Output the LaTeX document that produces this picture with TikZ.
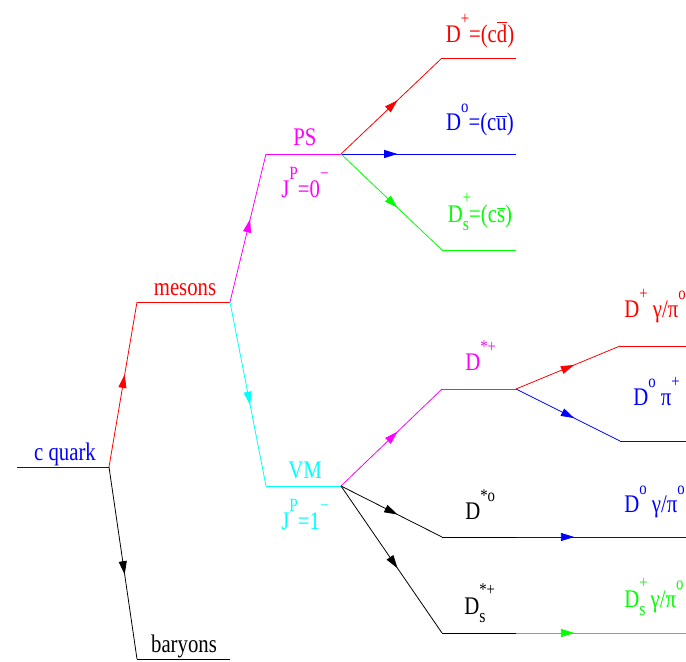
\documentclass[tikz,border=0pt]{standalone}
\usepackage{fontspec}
\setmainfont{Liberation Serif}
\usepackage{xcolor}
\usetikzlibrary{arrows.meta,decorations.markings}
\definecolor{qRed}{HTML}{FF0000}
\definecolor{qBlue}{HTML}{0000FF}
\definecolor{qGreen}{HTML}{00FF00}
\definecolor{qMag}{HTML}{FF00FF}
\definecolor{qCyan}{HTML}{00FFFF}
\newcommand{\upr}[1]{\raisebox{0.68em}{\fontsize{13.5}{12}\selectfont #1}}
\newcommand{\upj}[1]{\raisebox{0.68em}{\fontsize{14}{13}\selectfont #1}}
\newcommand{\upsb}[2]{\makebox[0pt][l]{\raisebox{0.75em}{\fontsize{13.5}{12}\selectfont #1}}\raisebox{-0.35em}{\fontsize{14.5}{13}\selectfont #2}}
\newcommand{\bard}[1]{$\overline{\mbox{#1}}$}

\begin{document}
\begin{tikzpicture}[x=0.75pt,y=-0.75pt,font=\fontsize{19}{20}\selectfont,line width=0.6pt,
  midarrow/.style={postaction={decorate},decoration={markings,
    mark=at position 0.56 with {\arrow{Triangle[length=10pt,width=6pt]}}}},
  lbl/.style={anchor=base,inner sep=0pt,xscale=0.82,transform shape}]
\useasboundingbox (0,0) rectangle (686,661);
% vertices
\coordinate (c0) at (17,467);
\coordinate (vc) at (109,467);
\coordinate (m1) at (137,302);  \coordinate (m2) at (230,302);
\coordinate (b1) at (137,659);  \coordinate (b2) at (230,659);
\coordinate (p1) at (266,154);  \coordinate (p2) at (341,154);
\coordinate (v1) at (266,486);  \coordinate (v2) at (341,486);
\coordinate (dp1) at (442,58);  \coordinate (dp2) at (516,58);
\coordinate (dz1) at (442,154); \coordinate (dz2) at (516,154);
\coordinate (ds1) at (442,250); \coordinate (ds2) at (516,250);
\coordinate (sp1) at (442,389); \coordinate (sp2) at (516,389);
\coordinate (r1) at (620,346);  \coordinate (r2) at (686,346);
\coordinate (q1) at (620,441);  \coordinate (q2) at (686,441);
\coordinate (sz1) at (442,537); \coordinate (sz2) at (516,537);
\coordinate (sz3) at (620,537); \coordinate (sz4) at (686,537);
\coordinate (ss1) at (442,633); \coordinate (ss2) at (516,633);
\coordinate (ss3) at (620,633); \coordinate (ss4) at (686,633);
% c quark : mesons / baryons
\draw[qBlue] (c0) -- (vc);
\draw[qRed,midarrow] (vc) -- (m1);
\draw[qRed] (m1) -- (m2);
\draw[midarrow] (vc) -- (b1);
\draw (b1) -- (b2);
% mesons : PS / VM
\draw[qMag,midarrow] (m2) -- (p1);
\draw[qMag] (p1) -- (p2);
\draw[qCyan,midarrow] (m2) -- (v1);
\draw[qCyan] (v1) -- (v2);
% pseudoscalars
\draw[qRed,midarrow] (p2) -- (dp1);
\draw[qRed] (dp1) -- (dp2);
\draw[qBlue,midarrow] (p2) -- (dz1);
\draw[qBlue] (dz1) -- (dz2);
\draw[qGreen,midarrow] (p2) -- (ds1);
\draw[qGreen] (ds1) -- (ds2);
% vector mesons
\draw[qMag,midarrow] (v2) -- (sp1);
\draw[qMag] (sp1) -- (sp2);
\draw[qRed,midarrow] (sp2) -- (r1);
\draw[qRed] (r1) -- (r2);
\draw[qBlue,midarrow] (sp2) -- (q1);
\draw[qBlue] (q1) -- (q2);
\draw[midarrow] (v2) -- (sz1);
\draw (sz1) -- (sz2);
\draw[qBlue,midarrow] (sz2) -- (sz3);
\draw[qBlue] (sz3) -- (sz4);
\draw[midarrow] (v2) -- (ss1);
\draw (ss1) -- (ss2);
\draw[qGreen,midarrow] (ss2) -- (ss3);
\draw[qGreen] (ss3) -- (ss4);
% labels
\node[lbl,qBlue] (cq) at (65,460) {c quark};
\node[lbl,qRed] (mes) at (185,295) {mesons};
\node[lbl] (bar) at (184,652) {baryons};
\node[lbl,qMag] (ps) at (305,145) {PS};
\node[lbl,qMag] (jps) at (305,197) {J\upj{P}=0\upj{−}};
\node[lbl,qCyan] (vm) at (305,478) {VM};
\node[lbl,qCyan] (jvm) at (305,529) {J\upj{P}=1\upj{−}};
\node[lbl,qRed] (ldp) at (480,42) {D\upr{+}=(c\bard{d})};
\node[lbl,qBlue] (ldz) at (480,130) {D\upr{o}=(c\bard{u})};
\node[lbl,qGreen] (lds) at (480,222) {D\upsb{+}{s}=(c\bard{s})};
\node[lbl,qMag,anchor=base west] (lsp) at (465,370) {D\upr{*+}};
\node[lbl,anchor=base west] (lsz) at (465,519) {D\upr{*o}};
\node[lbl,anchor=base west] (lss) at (464,614) {D\upsb{*+}{s}};
\node[lbl,qRed,anchor=base west] (lr) at (624,317) {D\upr{+} γ/π\upr{o}};
\node[lbl,qBlue,anchor=base west] (lq) at (633,405) {D\upr{o} π\upr{+}};
\node[lbl,qBlue,anchor=base west] (lsz2) at (624,512) {D\upr{o} γ/π\upr{o}};
\node[lbl,qGreen,anchor=base west] (lss2) at (624,607) {D\upsb{+}{s} γ/π\upr{o}};
\end{tikzpicture}
\end{document}
